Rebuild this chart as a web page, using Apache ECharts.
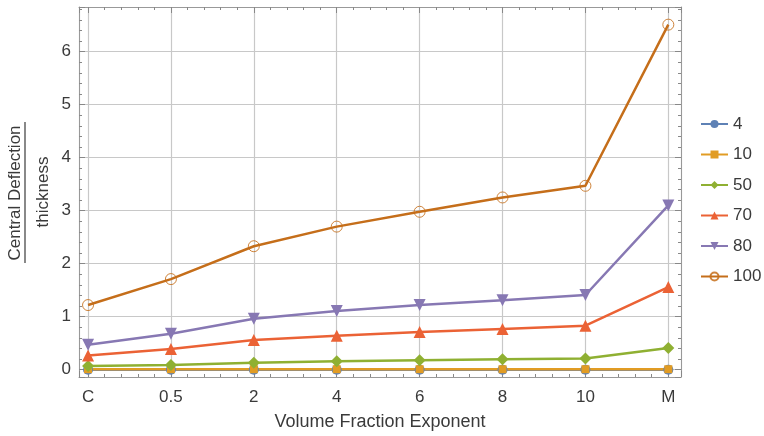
<!DOCTYPE html>
<html>
<head>
<meta charset="utf-8">
<script src="https://cdn.jsdelivr.net/npm/echarts@6/dist/echarts.min.js"></script>
<style>
html,body{margin:0;padding:0;background:#fff;}
#chart{width:764px;height:436px;}
</style>
</head>
<body>
<div id="chart"></div>
<script>
const categories = ['C', '0.5', '2', '4', '6', '8', '10', 'M'];
const seriesNames = ['4', '10', '50', '70', '80', '100'];
const values4   = [0.0, 0.0, 0.0, 0.0, 0.0, 0.0, 0.0, 0.0];
const values10  = [0.01, 0.01, 0.01, 0.01, 0.01, 0.01, 0.01, 0.01];
const values50  = [0.07, 0.09, 0.13, 0.16, 0.18, 0.20, 0.21, 0.41];
const values70  = [0.27, 0.39, 0.56, 0.64, 0.71, 0.77, 0.83, 1.56];
const values80  = [0.47, 0.68, 0.96, 1.11, 1.22, 1.31, 1.41, 3.10];
const values100 = [1.22, 1.71, 2.33, 2.70, 2.98, 3.25, 3.47, 6.51];
const yTickLabels = ['0', '1', '2', '3', '4', '5', '6'];

const allValues = [values4, values10, values50, values70, values80, values100];
const colors = ['#5E81B5', '#E19C24', '#8FB032', '#EB6235', '#8778B3', '#C56E1A'];
const symbols = ['circle', 'rect', 'diamond', 'triangle', 'triangle', 'circle'];
const symbolSizes = [10, 8, 12, 12, 12, 11];
const symbolRotates = [0, 0, 0, 0, 180, 0];

const FONT = 'Liberation Sans, Arial, sans-serif';
const TEXT = '#3a3a3a';
const XMIN = -0.109, XMAX = 7.153, YMIN = -0.137, YMAX = 6.843;

function isInt(v) { return Math.abs(v - Math.round(v)) < 1e-6; }

function baseAxis(min, max, pos) {
  return {
    type: 'value', min: min, max: max, splitNumber: 7, position: pos,
    axisLine: { show: true, onZero: false, lineStyle: { color: '#999', width: 1 } },
    splitLine: { show: false },
    axisLabel: { show: false },
    axisTick: { show: true, inside: true, length: 6, lineStyle: { color: '#888' } },
    minorTick: { show: true, splitNumber: 5, length: 3, lineStyle: { color: '#888' } }
  };
}

const xMain = baseAxis(XMIN, XMAX, 'bottom');
xMain.splitLine = { show: true, lineStyle: { color: '#c8c8c8', width: 1.2 } };
xMain.axisLabel = {
  show: true, margin: 12, fontFamily: FONT, fontSize: 17, color: TEXT,
  formatter: function (v) { return isInt(v) ? (categories[Math.round(v)] || '') : ''; }
};
xMain.name = 'Volume Fraction Exponent';
xMain.nameLocation = 'middle';
xMain.nameGap = 36;
xMain.nameTextStyle = { fontFamily: FONT, fontSize: 18, color: TEXT };

const yMain = baseAxis(YMIN, YMAX, 'left');
yMain.splitLine = { show: true, lineStyle: { color: '#c8c8c8', width: 1.2 } };
yMain.axisLabel = {
  show: true, margin: 8, fontFamily: FONT, fontSize: 17, color: TEXT,
  formatter: function (v) { return isInt(v) ? (yTickLabels[Math.round(v)] || '') : ''; }
};

const option = {
  animation: false,
  backgroundColor: '#fff',
  grid: { left: 79, right: 83, top: 7, bottom: 56 },
  legend: {
    orient: 'vertical', left: 695, top: 109,
    itemWidth: 27, itemHeight: 10, itemGap: 10.5,
    data: seriesNames,
    textStyle: { fontFamily: FONT, fontSize: 17, color: TEXT, lineHeight: 20 }
  },
  xAxis: [xMain, baseAxis(XMIN, XMAX, 'top')],
  yAxis: [yMain, baseAxis(YMIN, YMAX, 'right')],
  graphic: [
    { type: 'text', x: 15, y: 193, rotation: Math.PI / 2,
      style: { text: 'Central Deflection', font: '17px ' + FONT, fill: TEXT, align: 'center', verticalAlign: 'middle' } },
    { type: 'line', shape: { x1: 25, y1: 122, x2: 25, y2: 263 }, style: { stroke: TEXT, lineWidth: 1.2 } },
    { type: 'text', x: 43, y: 192, rotation: Math.PI / 2,
      style: { text: 'thickness', font: '17px ' + FONT, fill: TEXT, align: 'center', verticalAlign: 'middle' } }
  ],
  series: allValues.map(function (vals, i) {
    return {
      name: seriesNames[i], type: 'line',
      xAxisIndex: 0, yAxisIndex: 0,
      data: vals.map(function (v, j) { return [j, v]; }),
      symbol: symbols[i], symbolSize: symbolSizes[i], symbolRotate: symbolRotates[i],
      showAllSymbol: true,
      lineStyle: { color: colors[i], width: 2.5 },
      itemStyle: i === 5
        ? { color: 'rgba(255,255,255,0)', borderColor: colors[i], borderWidth: 1, opacity: 0.85 }
        : { color: colors[i] },
      emphasis: { disabled: true }
    };
  })
};

const chart = echarts.init(document.getElementById('chart'), null, { renderer: 'canvas' });
chart.setOption(option);
</script>
</body>
</html>
